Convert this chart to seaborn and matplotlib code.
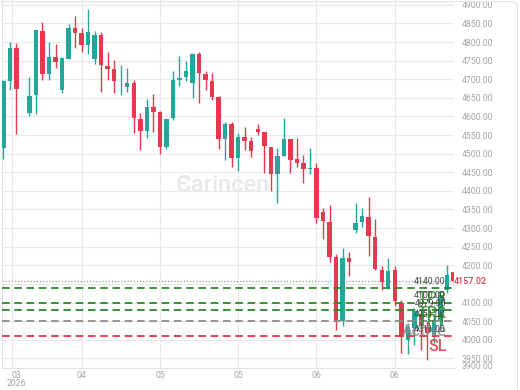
import numpy as np
import matplotlib
matplotlib.use("Agg")
import matplotlib.pyplot as plt
import seaborn as sns
from matplotlib.patches import FancyBboxPatch

# daily candles (o, h, l, c)
opens = [4515, 4696, 4784, 4673, 4609, 4658, 4831, 4715, 4761, 4672,
         4755, 4837, 4824, 4791, 4754, 4820, 4736, 4727, 4697, 4679,
         4690, 4594, 4562, 4625, 4612, 4519, 4596, 4698, 4706, 4691,
         4768, 4715, 4696, 4651, 4540, 4580, 4488, 4546, 4535, 4566,
         4559, 4518, 4446, 4494, 4539, 4485, 4476, 4458, 4461, 4342,
         4316, 4222, 4051, 4219, 4295, 4317, 4331, 4277, 4188, 4141,
         4188, 4100, 4000, 4031, 4070, 4035, 4008, 4049, 4134, 4183]
highs = [4697, 4800, 4797, 4673, 4706, 4833, 4855, 4799, 4795, 4761,
         4849, 4870, 4837, 4888, 4831, 4827, 4772, 4752, 4738, 4730,
         4698, 4609, 4647, 4660, 4614, 4594, 4723, 4763, 4748, 4770,
         4772, 4723, 4718, 4656, 4586, 4586, 4555, 4571, 4544, 4580,
         4559, 4519, 4515, 4596, 4540, 4542, 4497, 4515, 4476, 4354,
         4362, 4231, 4246, 4237, 4367, 4354, 4383, 4325, 4198, 4219,
         4197, 4107, 4045, 4085, 4080, 4050, 4065, 4130, 4200, 4186]
lows = [4485, 4670, 4553, 4673, 4600, 4606, 4698, 4698, 4730, 4664,
        4754, 4785, 4772, 4768, 4741, 4667, 4698, 4663, 4658, 4667,
        4555, 4510, 4542, 4559, 4500, 4512, 4591, 4682, 4694, 4649,
        4637, 4670, 4645, 4512, 4483, 4465, 4454, 4510, 4492, 4551,
        4449, 4401, 4367, 4494, 4449, 4464, 4422, 4446, 4313, 4270,
        4210, 4026, 4037, 4170, 4286, 4303, 4225, 4188, 4134, 4137,
        4091, 3964, 3962, 3986, 3973, 3946, 3990, 4030, 4125, 4150]
closes = [4696, 4784, 4674, 4673, 4656, 4833, 4715, 4761, 4747, 4757,
          4837, 4824, 4791, 4827, 4820, 4738, 4727, 4696, 4699, 4690,
          4596, 4562, 4625, 4612, 4519, 4593, 4697, 4703, 4721, 4768,
          4716, 4697, 4651, 4540, 4580, 4488, 4546, 4535, 4508, 4559,
          4521, 4446, 4494, 4539, 4483, 4475, 4458, 4461, 4327, 4318,
          4223, 4051, 4219, 4210, 4315, 4332, 4280, 4190, 4155, 4186,
          4104, 4008, 4035, 4076, 4040, 4017, 4049, 4120, 4175, 4157]

last_price = 4157.02

# trade levels drawn across the chart
level_names = ["TP3", "TP2", "TP1", "Active", "SL"]
level_values = [4140.0, 4100.0, 4079.0, 4051.0, 4011.0]
level_colors = ["#2a8a2a", "#2a8a2a", "#2a8a2a", "#8c8c8c", "#e8303f"]

# axis ticks
y_ticks = [3950, 4000, 4050, 4100, 4150, 4200, 4250, 4300, 4350, 4400,
           4450, 4500, 4550, 4600, 4650, 4700, 4750, 4800, 4850, 4900]
x_tick_pos = [1.33, 12, 24, 36, 48, 60]
x_tick_labels = ["03\n2026", "04", "05", "05", "06", "06"]

UP = "#26a69a"
DOWN = "#e5394e"

sns.set_theme(style="white")
plt.rcParams["font.family"] = ["Roboto", "DejaVu Sans"]

fig = plt.figure(figsize=(5.2, 3.9), dpi=100)
ax = fig.add_axes([2 / 520, 1 - 368 / 390, 451.5 / 520, 368 / 390])

o = np.array(opens, float)
h = np.array(highs, float)
l = np.array(lows, float)
c = np.array(closes, float)
x = np.arange(len(o))
cols = np.where(c > o, UP, np.where(c < o, DOWN, "#333333"))

ax.vlines(x, l, h, colors=cols, lw=1.0, zorder=3)
body = np.maximum(np.abs(c - o), 2.0)
ax.bar(x, body, bottom=np.minimum(o, c), width=0.68, color=cols, zorder=4, linewidth=0)

# current price line
ax.axhline(last_price, color="#9a9a9a", lw=0.9, ls=(0, (1, 1.5)), zorder=2)

for name, val, col in zip(level_names, level_values, level_colors):
    ax.axhline(val, color=col, lw=1.3, ls=(0, (4.2, 2.6)), zorder=5)
    ax.annotate(f"{val:.2f}", xy=(0.983, val), xycoords=("axes fraction", "data"),
                xytext=(0, 1.5), textcoords="offset points", ha="right", va="bottom",
                fontsize=6.3, color="#444444", zorder=6)
    ax.annotate(name, xy=(0.985, val), xycoords=("axes fraction", "data"),
                xytext=(0, -2.5), textcoords="offset points", ha="right", va="top",
                fontsize=11.5, color=col, alpha=0.85, fontweight="medium", zorder=6)

ax.set_xlim(-0.2, 69.0)
ax.set_ylim(3924, 4913)

ax.yaxis.tick_right()
ax.set_yticks(y_ticks)
ax.set_yticklabels(["" if t == 4150 else f"{t:.2f}" for t in y_ticks])
ax.tick_params(axis="y", length=0, pad=6, labelsize=6.3, labelcolor="#a5a5a5")
ax.set_xticks(x_tick_pos)
ax.set_xticklabels(x_tick_labels, linespacing=0.95)
ax.tick_params(axis="x", length=0, pad=2, labelsize=6.3, labelcolor="#a5a5a5")
# first date label sits a little right of its gridline
first = ax.get_xticklabels()[0]
first.set_x(first.get_position()[0])
first.set_horizontalalignment("center")
import matplotlib.transforms as mtransforms
first.set_transform(first.get_transform() + mtransforms.ScaledTranslation(4 / 100, 0, fig.dpi_scale_trans))

ax.text(1.0, last_price, f"{last_price:.2f}", transform=ax.get_yaxis_transform(),
        ha="left", va="center", fontsize=6.5, color=DOWN, fontweight="medium")
ax.annotate("3900.00", xy=(1.0, 0.0), xycoords="axes fraction", xytext=(6, 1),
            textcoords="offset points", ha="left", va="center", fontsize=6.3, color="#a5a5a5")

ax.grid(True, color="#e9e9e9", lw=0.8)
for s in ["top", "right"]:
    ax.spines[s].set_visible(False)
for s in ["left", "bottom"]:
    ax.spines[s].set_color("#e2e2e2")
    ax.spines[s].set_linewidth(0.8)

# watermark
ax.text(0.49, 0.495, "Єarincen", transform=ax.transAxes, ha="center", va="center",
        fontsize=17, color="#e8e8e8", fontweight="medium", zorder=1)

# card border
fig.patches.append(FancyBboxPatch((-0.05, -0.05), 1.045, 1.046, boxstyle="round,pad=0,rounding_size=0.015",
                                  transform=fig.transFigure, fill=False, ec="#e4e4e4", lw=0.8))

fig.savefig("out.png", dpi=100, facecolor="white")
